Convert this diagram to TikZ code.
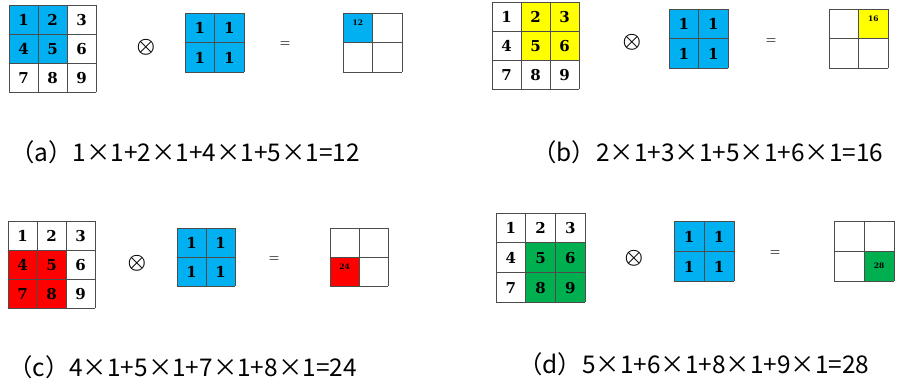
\documentclass[tikz,border=0pt]{standalone}
\usepackage{fontspec}
\newfontfamily\cjk{Noto Sans CJK SC}
\newfontfamily\cellfont{DejaVu Serif}
\definecolor{convblue}{HTML}{00B0F0}
\definecolor{convyellow}{HTML}{FFFF00}
\definecolor{convred}{HTML}{FF0000}
\definecolor{convgreen}{HTML}{00B050}

\begin{document}
\begin{tikzpicture}[x=1pt, y=-1pt,
    num/.style={font=\cellfont\bfseries\fontsize{15}{15}\selectfont, inner sep=0pt},
    outnum/.style={font=\cellfont\bfseries\fontsize{7.5}{7.5}\selectfont, inner sep=0pt},
    gridline/.style={black!70, line width=0.7pt},
    opsign/.style={font=\boldmath\fontsize{22}{22}\selectfont, inner sep=0pt},
    eqsign/.style={font=\bfseries\fontsize{12}{12}\selectfont, inner sep=0pt},
    caption/.style={font=\cjk\fontsize{24.4}{24.4}\selectfont, anchor=west, inner sep=0pt}]

  \useasboundingbox (0,0) rectangle (897,386);

  % --- (a) Eingabe 3x3 ---
  \begin{scope}[shift={(9,5)}]
    \fill[convblue] (0,0) rectangle (58,58);
    \foreach \k in {0,29,58,87} {
      \draw[gridline] (\k,0) -- (\k,87);
      \draw[gridline] (0,\k) -- (87,\k);
    }
    \foreach \r in {0,1,2}
      \foreach \c in {0,1,2} {
        \pgfmathtruncatemacro\n{3*\r+\c+1}
        \node[num] (a-in-\n) at (\c*29+14.5, \r*29+15) {\n};
      }
  \end{scope}
  \node[opsign] (a-op) at (146,47) {$\otimes$};
  % --- (a) Kern ---
  \begin{scope}[shift={(185,13)}]
    \fill[convblue] (0,0) rectangle (59,59);
    \foreach \k in {0,29.5,59} {
      \draw[gridline] (\k,0) -- (\k,59);
      \draw[gridline] (0,\k) -- (59,\k);
    }
    \foreach \r in {0,1}
      \foreach \c in {0,1}
        \node[num] (a-k-\r\c) at (\c*29.5+14.75, \r*29.5+15) {1};
  \end{scope}
  \node[eqsign] (a-eq) at (285,44) {=};
  % --- (a) Ausgabe ---
  \begin{scope}[shift={(343,13)}]
    \fill[convblue] (0,0) rectangle (29.5,29.5);
    \foreach \k in {0,29.5,59} {
      \draw[gridline] (\k,0) -- (\k,59);
      \draw[gridline] (0,\k) -- (59,\k);
    }
    \node[outnum] (a-out) at (14.75,10) {12};
  \end{scope}
  \node[caption] (a-cap) at (10,152) {（a）1×1+2×1+4×1+5×1=12};

  % --- (b) Eingabe 3x3 ---
  \begin{scope}[shift={(492,2)}]
    \fill[convyellow] (29,0) rectangle (87,58);
    \foreach \k in {0,29,58,87} {
      \draw[gridline] (\k,0) -- (\k,87);
      \draw[gridline] (0,\k) -- (87,\k);
    }
    \foreach \r in {0,1,2}
      \foreach \c in {0,1,2} {
        \pgfmathtruncatemacro\n{3*\r+\c+1}
        \node[num] (b-in-\n) at (\c*29+14.5, \r*29+15) {\n};
      }
  \end{scope}
  \node[opsign] (b-op) at (632,42) {$\otimes$};
  % --- (b) Kern ---
  \begin{scope}[shift={(669,9)}]
    \fill[convblue] (0,0) rectangle (59,59);
    \foreach \k in {0,29.5,59} {
      \draw[gridline] (\k,0) -- (\k,59);
      \draw[gridline] (0,\k) -- (59,\k);
    }
    \foreach \r in {0,1}
      \foreach \c in {0,1}
        \node[num] (b-k-\r\c) at (\c*29.5+14.75, \r*29.5+15) {1};
  \end{scope}
  \node[eqsign] (b-eq) at (771,41) {=};
  % --- (b) Ausgabe ---
  \begin{scope}[shift={(829,9)}]
    \fill[convyellow] (29.5,0) rectangle (59,29.5);
    \foreach \k in {0,29.5,59} {
      \draw[gridline] (\k,0) -- (\k,59);
      \draw[gridline] (0,\k) -- (59,\k);
    }
    \node[outnum] (b-out) at (44.25,10) {16};
  \end{scope}
  \node[caption] (b-cap) at (532,152) {（b）2×1+3×1+5×1+6×1=16};

  % --- (c) Eingabe 3x3 ---
  \begin{scope}[shift={(8,221)}]
    \fill[convred] (0,29) rectangle (58,87);
    \foreach \k in {0,29,58,87} {
      \draw[gridline] (\k,0) -- (\k,87);
      \draw[gridline] (0,\k) -- (87,\k);
    }
    \foreach \r in {0,1,2}
      \foreach \c in {0,1,2} {
        \pgfmathtruncatemacro\n{3*\r+\c+1}
        \node[num] (c-in-\n) at (\c*29+14.5, \r*29+15) {\n};
      }
  \end{scope}
  \node[opsign] (c-op) at (137,263) {$\otimes$};
  % --- (c) Kern ---
  \begin{scope}[shift={(177,228)}]
    \fill[convblue] (0,0) rectangle (58,58);
    \foreach \k in {0,29,58} {
      \draw[gridline] (\k,0) -- (\k,58);
      \draw[gridline] (0,\k) -- (58,\k);
    }
    \foreach \r in {0,1}
      \foreach \c in {0,1}
        \node[num] (c-k-\r\c) at (\c*29+14.5, \r*29+15) {1};
  \end{scope}
  \node[eqsign] (c-eq) at (274,259) {=};
  % --- (c) Ausgabe ---
  \begin{scope}[shift={(330,228)}]
    \fill[convred] (0,29) rectangle (29,58);
    \foreach \k in {0,29,58} {
      \draw[gridline] (\k,0) -- (\k,58);
      \draw[gridline] (0,\k) -- (58,\k);
    }
    \node[outnum] (c-out) at (14.5,39) {24};
  \end{scope}
  \node[caption] (c-cap) at (8,367) {（c）4×1+5×1+7×1+8×1=24};

  % --- (d) Eingabe 3x3 ---
  \begin{scope}[shift={(496,213)}]
    \fill[convgreen] (29.7,29.7) rectangle (89,89);
    \foreach \k in {0,29.7,59.4,89} {
      \draw[gridline] (\k,0) -- (\k,89);
      \draw[gridline] (0,\k) -- (89,\k);
    }
    \foreach \r in {0,1,2}
      \foreach \c in {0,1,2} {
        \pgfmathtruncatemacro\n{3*\r+\c+1}
        \node[num] (d-in-\n) at (\c*29.7+14.85, \r*29.7+15.3) {\n};
      }
  \end{scope}
  \node[opsign] (d-op) at (634,258) {$\otimes$};
  % --- (d) Kern ---
  \begin{scope}[shift={(674,221)}]
    \fill[convblue] (0,0) rectangle (60,60);
    \foreach \k in {0,30,60} {
      \draw[gridline] (\k,0) -- (\k,60);
      \draw[gridline] (0,\k) -- (60,\k);
    }
    \foreach \r in {0,1}
      \foreach \c in {0,1}
        \node[num] (d-k-\r\c) at (\c*30+15, \r*30+15.5) {1};
  \end{scope}
  \node[eqsign] (d-eq) at (775,253) {=};
  % --- (d) Ausgabe ---
  \begin{scope}[shift={(834,221)}]
    \fill[convgreen] (30,30) rectangle (60,60);
    \foreach \k in {0,30,60} {
      \draw[gridline] (\k,0) -- (\k,60);
      \draw[gridline] (0,\k) -- (60,\k);
    }
    \node[outnum] (d-out) at (45,45) {28};
  \end{scope}
  \node[caption] (d-cap) at (518,364) {（d）5×1+6×1+8×1+9×1=28};

\end{tikzpicture}
\end{document}
